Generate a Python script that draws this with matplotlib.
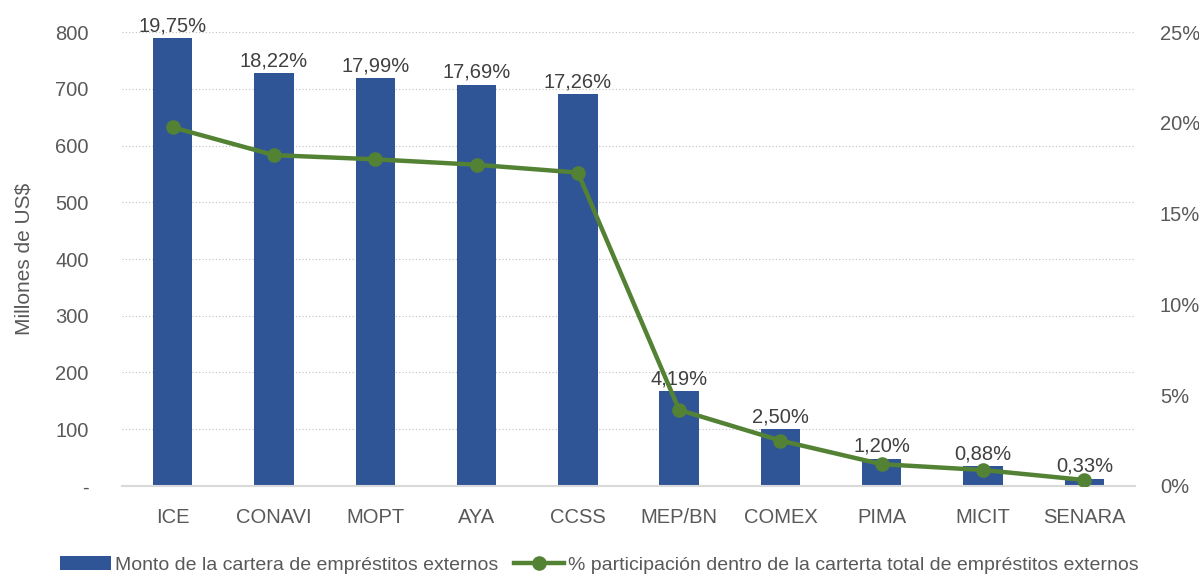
import matplotlib.pyplot as plt
import numpy as np
from matplotlib.ticker import FuncFormatter

plt.rcParams['font.family'] = ['Liberation Sans Narrow', 'Liberation Sans', 'DejaVu Sans']

# data
categorias = ["ICE", "CONAVI", "MOPT", "AYA", "CCSS", "MEP/BN", "COMEX", "PIMA", "MICIT", "SENARA"]
monto = [789, 728, 719, 707, 690, 167, 100, 48, 35, 13]
participacion = [19.75, 18.22, 17.99, 17.69, 17.26, 4.19, 2.50, 1.20, 0.88, 0.33]

gris = "#595959"
azul = "#2F5597"
verde = "#548235"

fig = plt.figure(figsize=(11.99, 5.78), dpi=100)
ax = fig.add_axes([0.1018, 0.1592, 0.8448, 0.7854])
x = np.arange(len(categorias))

bars = ax.bar(x, monto, width=0.39, color=azul, zorder=2,
              label="Monto de la cartera de empréstitos externos")
ax.set_xlim(-0.5, len(categorias) - 0.5)
ax.set_ylim(0, 800)
ax.set_yticks(range(0, 900, 100))
ax.yaxis.set_major_formatter(FuncFormatter(lambda v, p: "-" if v == 0 else f"{int(v)}"))
ax.grid(axis="y", color="#bfbfbf", linestyle=(0, (1, 2)), linewidth=0.8, zorder=0)
ax.set_xticks(x)
ax.set_xticklabels(categorias)
ax.tick_params(axis="both", length=0, colors=gris, labelsize=14.5)
ax.tick_params(axis="x", pad=16)
ax.tick_params(axis="y", pad=24)
for s in ["top", "right", "left"]:
    ax.spines[s].set_visible(False)
ax.spines["bottom"].set_color("#d9d9d9")
ax.spines["bottom"].set_linewidth(1.5)
ax.set_ylabel("Millones de US$", color=gris, fontsize=15, labelpad=16)

for xi, m, p in zip(x, monto, participacion):
    ax.text(xi, m + 5, f"{p:.2f}%".replace(".", ","), ha="center", va="bottom",
            color="#404040", fontsize=14.5, clip_on=False, zorder=5)

ax2 = ax.twinx()
ax2.plot(x, participacion, color=verde, linewidth=3.2, marker="o", markersize=9.5,
         label="% participación dentro de la carterta total de empréstitos externos", zorder=4)
ax2.set_ylim(0, 25)
ax2.set_yticks(range(0, 30, 5))
ax2.yaxis.set_major_formatter(FuncFormatter(lambda v, p: f"{int(v)}%"))
ax2.tick_params(axis="y", length=0, colors=gris, labelsize=14.5, pad=18)
for s in ["top", "right", "left", "bottom"]:
    ax2.spines[s].set_visible(False)

h1, l1 = ax.get_legend_handles_labels()
h2, l2 = ax2.get_legend_handles_labels()
fig.legend(h1 + h2, l1 + l2, loc="center", bbox_to_anchor=(0.5, 0.022), ncol=2,
           frameon=False, fontsize=14, labelcolor=gris, handlelength=2.6,
           handletextpad=0.2, columnspacing=0.8, borderaxespad=0)

fig.savefig("out.png", dpi=100)
